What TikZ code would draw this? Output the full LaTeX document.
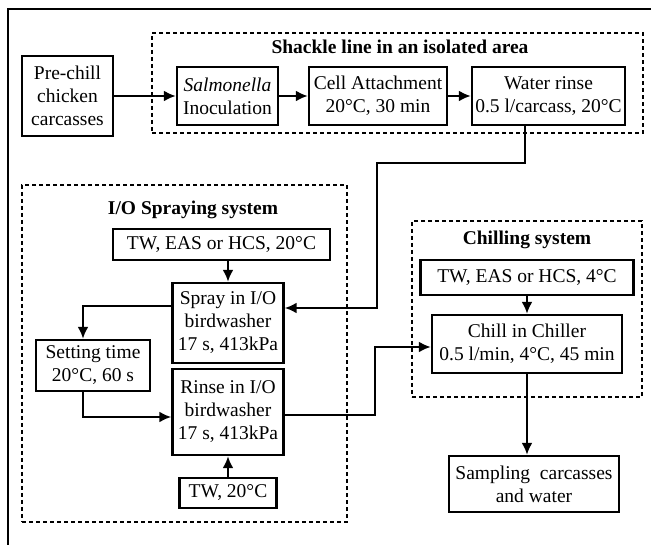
\documentclass[tikz,border=0pt]{standalone}
\usepackage{fontspec}
\setmainfont{Liberation Serif}
\usetikzlibrary{arrows.meta}
\newcommand\boxfont{\fontsize{19.5}{23}\selectfont}
\tikzset{
  stepbox/.style={draw, line width=2.4pt, align=center, inner sep=0pt, font=\boxfont},
  zone/.style={draw, line width=1.1pt, dash pattern=on 4pt off 3pt, inner sep=0pt},
  zonetitle/.style={font=\boxfont\bfseries, inner sep=0pt},
  flow/.style={line width=2.3pt, -{Latex[length=12pt,width=11pt]}}
}
\begin{document}
\begin{tikzpicture}[x=1pt, y=-1pt]
            \useasboundingbox (0,0) rectangle (651,545);
            \draw [line width=1.4pt] (8,545) -- (8,9) -- (651,9);

            \node [zone, minimum width=491pt, minimum height=100pt] (shackle) at (397.5,83) {};
            \node [zonetitle] (shackletitle) at (400,47) {Shackle line in an isolated area};
            \node [zone, minimum width=325pt, minimum height=337pt] (spraying) at (184.5,353.5) {};
            \node [zonetitle] (sprayingtitle) at (193,210) {I/O Spraying system};
            \node [zone, minimum width=230pt, minimum height=176pt] (chilling) at (527,309) {};
            \node [zonetitle] (chillingtitle) at (527,240) {Chilling system};

            \node [stepbox, minimum width=91pt, minimum height=80pt] (prechill) at (67.5,96) {Pre-chill\\chicken\\carcasses};
            \node [stepbox, minimum width=101pt, minimum height=58pt] (salmonella) at (227.5,96) {\textit{Salmonella}\\Inoculation};
            \node [stepbox, minimum width=138pt, minimum height=58pt] (attach) at (378,96) {Cell Attachment\\20°C, 30 min};
            \node [stepbox, minimum width=153pt, minimum height=58pt] (waterrinse) at (548.5,96) {Water rinse\\0.5 l/carcass, 20°C};

            \node [stepbox, minimum width=217pt, minimum height=31pt] (mixtwenty) at (221.5,244.5) {TW, EAS or HCS, 20°C};
            \node [stepbox, minimum width=111pt, minimum height=80pt] (spray) at (228,323) {Spray in I/O\\birdwasher\\17 s, 413kPa};
            \node [stepbox, minimum width=114pt, minimum height=51pt] (setting) at (93,365.5) {Setting time\\20°C, 60 s};
            \node [stepbox, minimum width=111pt, minimum height=86pt] (rinse) at (228,412) {Rinse in I/O\\birdwasher\\17 s, 413kPa};
            \node [stepbox, minimum width=97pt, minimum height=30pt] (tw) at (228,493) {TW, 20°C};

            \node [stepbox, minimum width=213pt, minimum height=35pt] (mixfour) at (527,277.5) {TW, EAS or HCS, 4°C};
            \node [stepbox, minimum width=190pt, minimum height=58pt] (chill) at (527,344) {Chill in Chiller\\0.5 l/min, 4°C, 45 min};
            \node [stepbox, minimum width=170pt, minimum height=56pt] (sampling) at (534,484) {Sampling\ \ carcasses\\and water};

            \coordinate (down1) at (525,163);
            \coordinate (down2) at (377,163);
            \coordinate (down3) at (377,308);
            \coordinate (left1) at (83,306);
            \coordinate (left2) at (83,417);
            \coordinate (right1) at (375,415);
            \coordinate (right2) at (375,347);

            \draw [flow] (prechill) -- (salmonella);
            \draw [flow] (salmonella) -- (attach);
            \draw [flow] (attach) -- (waterrinse);
            \draw [flow] (waterrinse.south -| down1) -- (down1) -- (down2) -- (down3) -- (down3 -| spray.east);
            \draw [flow] (mixtwenty.south -| spray) -- (spray);
            \draw [flow] (left1 -| spray.west) -- (left1) -- (left1 |- setting.north);
            \draw [flow] (left2 |- setting.south) -- (left2) -- (left2 -| rinse.west);
            \draw [flow] (tw) -- (rinse);
            \draw [flow] (right1 -| rinse.east) -- (right1) -- (right2) -- (right2 -| chill.west);
            \draw [flow] (mixfour) -- (chill);
            \draw [flow] (chill.south) -- (chill.south |- sampling.north);
        \end{tikzpicture}
\end{document}
